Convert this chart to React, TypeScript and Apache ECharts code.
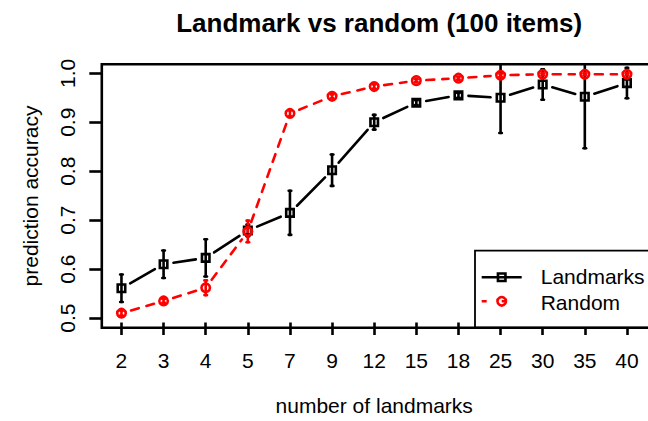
import React, { useEffect, useRef } from "react";
import * as echarts from "echarts";

// number of landmarks used (category axis)
const X_LABELS = ["2", "3", "4", "5", "7", "9", "12", "15", "18", "25", "30", "35", "40"];

// mean prediction accuracy and half-width of the error bar, landmark selection
const LANDMARK_MEAN = [0.561, 0.61, 0.623, 0.679, 0.715, 0.802, 0.9, 0.94, 0.955, 0.95, 0.977, 0.952, 0.98];
const LANDMARK_ERR = [0.028, 0.028, 0.038, 0.012, 0.045, 0.032, 0.015, 0.005, 0.005, 0.072, 0.031, 0.105, 0.031];

// mean prediction accuracy and half-width of the error bar, random selection
const RANDOM_MEAN = [0.51, 0.535, 0.562, 0.677, 0.918, 0.953, 0.973, 0.985, 0.99, 0.996, 0.998, 0.998, 0.998];
const RANDOM_ERR = [0.005, 0.004, 0.015, 0.022, 0.006, 0.004, 0.004, 0.003, 0.003, 0.003, 0.002, 0.002, 0.002];

const Y_MIN = 0.5;
const Y_MAX = 1.0;
const Y_STEP = 0.1;

const FONT = "Liberation Sans";
const BLACK = "#000000";
const RED = "#ff0000";
const LW = 2.6;

// plotting frame (slightly larger than the 0.5–1.0 data range, like R's 4% padding)
const FRAME = { left: 101.8, top: 64.3, right: 656.6, bottom: 327.7 };
const FRAME_Y_MAX = 1.0186;
const GRID = { left: 100.4, top: 73.3, width: 557, height: 250 };
const SEG_GAP = 10; // gap left around each point by the connecting segments

function segmentSeries(name: string, values: number[], color: string, dash: number[] | null) {
  return {
    name,
    type: "custom",
    clip: false,
    z: 2,
    data: values.slice(1).map((v, k) => [k + 1, values[k], v]),
    renderItem: (_params: any, api: any) => {
      const i = api.value(0);
      const p0 = api.coord([i - 1, api.value(1)]);
      const p1 = api.coord([i, api.value(2)]);
      const dx = p1[0] - p0[0];
      const dy = p1[1] - p0[1];
      const len = Math.sqrt(dx * dx + dy * dy);
      if (len <= 2 * SEG_GAP) return null;
      const ux = dx / len;
      const uy = dy / len;
      return {
        type: "line",
        shape: {
          x1: p0[0] + ux * SEG_GAP,
          y1: p0[1] + uy * SEG_GAP,
          x2: p1[0] - ux * SEG_GAP,
          y2: p1[1] - uy * SEG_GAP,
        },
        style: {
          stroke: color,
          lineWidth: LW,
          lineCap: "round",
          lineDash: dash || undefined,
          fill: null,
        },
      };
    },
  };
}

function errorBarSeries(name: string, means: number[], errs: number[], color: string) {
  return {
    name,
    type: "custom",
    clip: false,
    z: 3,
    data: means.map((m, i) => [i, m, errs[i]]),
    encode: { x: 0, y: 1 },
    renderItem: (_params: any, api: any) => {
      const i = api.value(0);
      const m = api.value(1);
      const e = api.value(2);
      const hi = api.coord([i, m + e]);
      const lo = api.coord([i, m - e]);
      const frameTop = api.coord([i, FRAME_Y_MAX])[1];
      const x = hi[0];
      const yTop = Math.max(hi[1], frameTop);
      const cap = 1.3;
      const style = { stroke: color, lineWidth: LW, lineCap: "round", fill: null };
      const children: any[] = [
        { type: "line", shape: { x1: x, y1: yTop, x2: x, y2: lo[1] }, style },
        { type: "line", shape: { x1: x - cap, y1: lo[1], x2: x + cap, y2: lo[1] }, style },
      ];
      if (hi[1] >= frameTop) {
        children.push({ type: "line", shape: { x1: x - cap, y1: hi[1], x2: x + cap, y2: hi[1] }, style });
      }
      return { type: "group", children };
    },
  };
}

export default function App() {
  const ref = useRef<HTMLDivElement>(null);

  useEffect(() => {
    if (!ref.current) return;
    const chart = echarts.init(ref.current, null, { renderer: "svg" });

    const legendX = 475;
    const legendTop = 250.7;
    const symX = 501.7;
    const row1 = 277.3;
    const row2 = 301.3;

    const option: any = {
      animation: false,
      backgroundColor: "#ffffff",
      textStyle: { fontFamily: FONT, color: BLACK },
      title: {
        text: "Landmark vs random (100 items)",
        left: (FRAME.left + FRAME.right) / 2,
        top: 22.6,
        padding: 0,
        textAlign: "center",
        textVerticalAlign: "middle",
        textStyle: { fontFamily: FONT, fontSize: 26, fontWeight: "bold", color: BLACK },
      },
      grid: { left: GRID.left, top: GRID.top, width: GRID.width, height: GRID.height, containLabel: false },
      xAxis: {
        type: "category",
        data: X_LABELS,
        boundaryGap: true,
        offset: FRAME.bottom - (GRID.top + GRID.height),
        axisLine: { show: false },
        axisTick: { show: true, alignWithLabel: true, length: 12.5, lineStyle: { color: BLACK, width: LW } },
        axisLabel: {
          interval: 0,
          margin: 38,
          verticalAlign: "middle",
          fontFamily: FONT,
          fontSize: 21,
          color: BLACK,
        },
        splitLine: { show: false },
        name: "number of landmarks",
        nameLocation: "middle",
        nameGap: 83,
        nameTextStyle: { fontFamily: FONT, fontSize: 21, color: BLACK, verticalAlign: "middle" },
      },
      yAxis: {
        type: "value",
        min: Y_MIN,
        max: Y_MAX,
        interval: Y_STEP,
        offset: GRID.left - FRAME.left,
        axisLine: { show: false },
        axisTick: { show: true, length: 12.5, lineStyle: { color: BLACK, width: LW } },
        axisLabel: {
          rotate: 90,
          align: "center",
          verticalAlign: "middle",
          margin: 34,
          fontFamily: FONT,
          fontSize: 21,
          color: BLACK,
          formatter: (v: number) => v.toFixed(1),
        },
        splitLine: { show: false },
      },
      series: [
        segmentSeries("Landmarks", LANDMARK_MEAN, BLACK, null),
        segmentSeries("Random", RANDOM_MEAN, RED, [8, 8]),
        errorBarSeries("Landmarks", LANDMARK_MEAN, LANDMARK_ERR, BLACK),
        errorBarSeries("Random", RANDOM_MEAN, RANDOM_ERR, RED),
        {
          name: "Landmarks",
          type: "scatter",
          clip: false,
          z: 4,
          data: LANDMARK_MEAN,
          symbol: "rect",
          symbolSize: 7.5,
          itemStyle: { color: "transparent", opacity: 1, borderColor: BLACK, borderWidth: LW },
          emphasis: { disabled: true },
        },
        {
          name: "Random",
          type: "scatter",
          clip: false,
          z: 4,
          data: RANDOM_MEAN,
          symbol: "circle",
          symbolSize: 8.5,
          itemStyle: { color: "transparent", opacity: 1, borderColor: RED, borderWidth: LW },
          emphasis: { disabled: true },
        },
      ],
      graphic: [
        // legend box
        {
          type: "rect",
          z: 5,
          shape: { x: legendX, y: legendTop, width: 200, height: FRAME.bottom - legendTop },
          style: { fill: "#ffffff", stroke: BLACK, lineWidth: 1.8 },
        },
        {
          type: "line",
          z: 6,
          shape: { x1: 481.7, y1: row1, x2: 521.7, y2: row1 },
          style: { stroke: BLACK, lineWidth: LW },
        },
        {
          type: "rect",
          z: 6,
          shape: { x: symX - 3.75, y: row1 - 3.75, width: 7.5, height: 7.5 },
          style: { fill: "none", stroke: BLACK, lineWidth: LW },
        },
        {
          type: "line",
          z: 6,
          shape: { x1: 481.7, y1: row2, x2: 521.7, y2: row2 },
          style: { stroke: RED, lineWidth: LW, lineDash: [5, 15] },
        },
        {
          type: "circle",
          z: 6,
          shape: { cx: symX, cy: row2, r: 4.25 },
          style: { fill: "none", stroke: RED, lineWidth: LW },
        },
        {
          type: "text",
          z: 6,
          x: 540.7,
          y: 276.4,
          style: { text: "Landmarks", font: `21px '${FONT}'`, fill: BLACK, align: "left", verticalAlign: "middle" },
        },
        {
          type: "text",
          z: 6,
          x: 540.7,
          y: 302.3,
          style: { text: "Random", font: `21px '${FONT}'`, fill: BLACK, align: "left", verticalAlign: "middle" },
        },
        // y-axis title
        {
          type: "text",
          z: 6,
          x: 30,
          y: (FRAME.top + FRAME.bottom) / 2,
          rotation: Math.PI / 2,
          style: {
            text: "prediction accuracy",
            font: `21px '${FONT}'`,
            fill: BLACK,
            align: "center",
            verticalAlign: "middle",
          },
        },
        // plot frame
        {
          type: "rect",
          z: 10,
          shape: {
            x: FRAME.left,
            y: FRAME.top,
            width: FRAME.right - FRAME.left,
            height: FRAME.bottom - FRAME.top,
          },
          style: { fill: "none", stroke: BLACK, lineWidth: LW },
        },
      ],
    };

    chart.setOption(option);
    return () => chart.dispose();
  }, []);

  return (
    <div
      ref={ref}
      style={{ position: "absolute", left: 0, top: 0, width: 648, height: 421 }}
    />
  );
}
